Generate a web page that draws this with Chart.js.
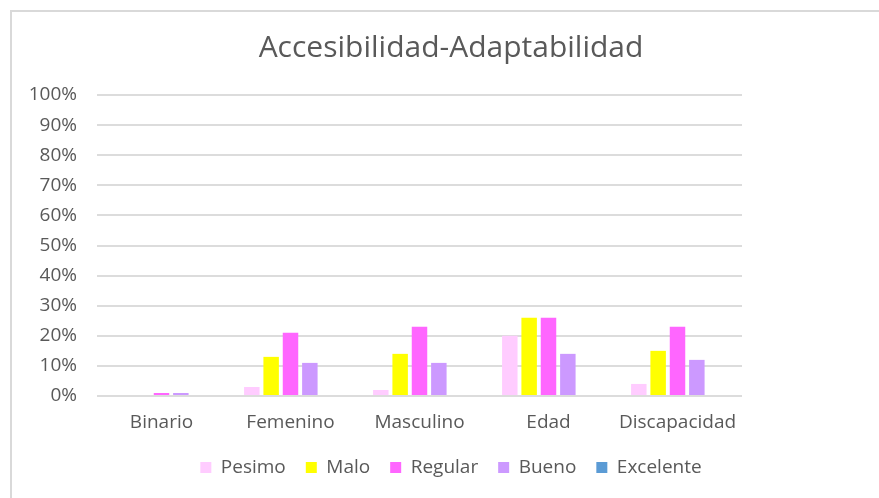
<!DOCTYPE html>
<html>
<head>
<meta charset="utf-8">
<script src="https://cdn.jsdelivr.net/npm/chart.js@4.4.1/dist/chart.umd.min.js"></script>
<style>
  html, body { margin: 0; padding: 0; background: #fff; overflow: hidden; width: 879px; height: 498px; }
  #frame { position: absolute; left: 10px; top: 10px; width: 900px; height: 520px; border: 2px solid #d9d9d9; box-sizing: border-box; }
  #wrap { position: absolute; left: 12px; top: 12px; width: 878px; height: 500px; }
</style>
</head>
<body>
<div id="frame"></div>
<div id="wrap"><canvas id="c" width="878" height="500"></canvas></div>
<script>
const title = 'Accesibilidad-Adaptabilidad';
const categories = ['Binario', 'Femenino', 'Masculino', 'Edad', 'Discapacidad'];
const seriesNames = ['Pesimo', 'Malo', 'Regular', 'Bueno', 'Excelente'];
const pesimo    = [0, 3, 2, 20, 4];
const malo      = [0, 13, 14, 26, 15];
const regular   = [1, 21, 23, 26, 23];
const bueno     = [1, 11, 11, 14, 12];
const excelente = [0, 0, 0, 0, 0];
const yTicks = [0, 10, 20, 30, 40, 50, 60, 70, 80, 90, 100];
const colors = ['#FFCCFF', '#FFFF00', '#FF66FF', '#CC99FF', '#5B9BD5'];

const seriesValues = [pesimo, malo, regular, bueno, excelente];
const textColor = '#595959';
const fontFamily = '"Open Sans", sans-serif';

new Chart(document.getElementById('c'), {
  type: 'bar',
  data: {
    labels: categories,
    datasets: seriesNames.map((n, i) => ({
      label: n,
      data: seriesValues[i],
      backgroundColor: colors[i],
      borderWidth: 0,
      categoryPercentage: 0.75,
      barPercentage: 0.8,
      yAxisID: 'y'
    }))
  },
  options: {
    responsive: false,
    animation: false,
    layout: { padding: { left: 0, right: 0, top: 0, bottom: 25 } },
    plugins: {
      title: {
        display: true,
        text: title,
        color: textColor,
        font: { family: fontFamily, size: 30, weight: 'normal', lineHeight: 1.2 },
        padding: { top: 18, bottom: 29 }
      },
      legend: {
        position: 'bottom',
        labels: {
          color: textColor,
          font: { family: fontFamily, size: 19 },
          boxWidth: 11,
          boxHeight: 11,
          padding: 20
        }
      },
      tooltip: { enabled: false }
    },
    scales: {
      x: {
        grid: { display: false, drawTicks: false },
        border: { display: false },
        ticks: { color: textColor, font: { family: fontFamily, size: 19, lineHeight: 1.2 }, padding: 15 },
        afterFit: (s) => { s.height = 42; }
      },
      y: {
        min: 0,
        max: 100,
        afterBuildTicks: (s) => { s.ticks = yTicks.map(v => ({ value: v })); },
        grid: { color: '#dcdcdc', lineWidth: 2, drawTicks: false },
        border: { display: false },
        ticks: {
          color: textColor,
          font: { family: fontFamily, size: 19 },
          padding: 20,
          callback: (v) => v + '%'
        },
        afterFit: (s) => { s.width = 85; }
      },
      spacer: {
        type: 'linear',
        position: 'right',
        min: 0,
        max: 100,
        grid: { display: false, drawTicks: false },
        border: { display: false },
        ticks: { display: false },
        afterFit: (s) => { s.width = 148; }
      }
    }
  }
});
</script>
</body>
</html>
